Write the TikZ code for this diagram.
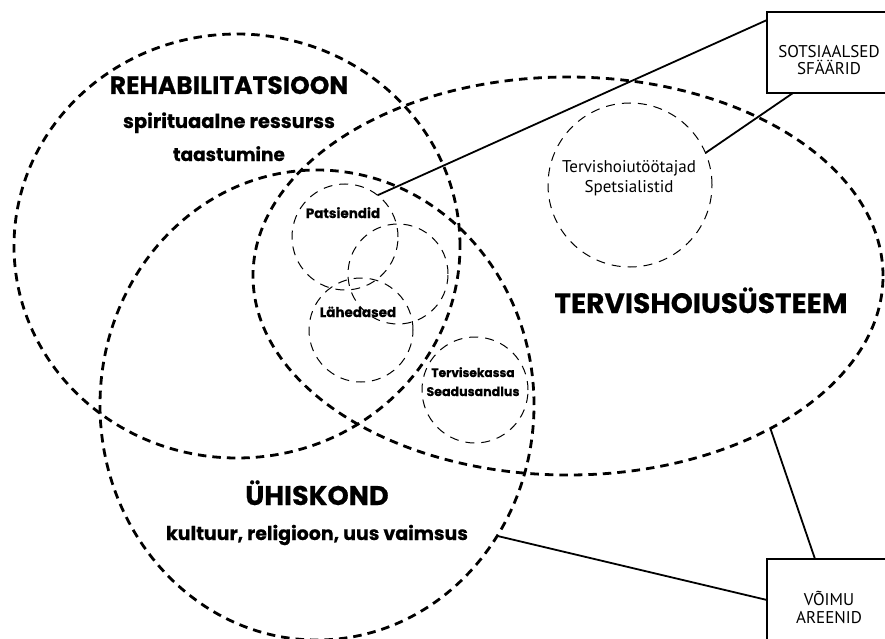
\documentclass[tikz,border=0pt]{standalone}
\usepackage{fontspec}
\setmainfont{PT Sans}
\newfontfamily\popfam{Poppins}[BoldFeatures={FakeBold=0.5}]
\usetikzlibrary{shapes.geometric}
\begin{document}
\begin{tikzpicture}[x=1pt,y=-1pt,
  big/.style={draw, ellipse, line width=2.8pt, dash pattern=on 8.5pt off 6pt, inner sep=0pt, outer sep=0pt},
  small/.style={draw, circle, line width=1pt, dash pattern=on 9pt off 7pt, inner sep=0pt, outer sep=0pt},
  conn/.style={line width=1.8pt},
  box/.style={draw, line width=1.2pt, minimum width=124pt, inner sep=0pt, outer sep=0pt},
  boldfont/.style={anchor=base, font=\popfam\bfseries\fontsize{#1}{#1}\selectfont},
  plain/.style={anchor=base, font=\fontsize{17}{20}\selectfont}
]
\useasboundingbox (0,0) rectangle (885,639);
\clip (0,0) rectangle (885,639);

% big ellipses
\node[big, minimum width=446pt, minimum height=424pt] (rehab) at (237,246) {};
\node[big, minimum width=434pt, minimum height=470pt] (uhis) at (317,405) {};
\node[big, minimum width=630pt, minimum height=398pt] (tervis) at (568,276) {};

% small circles
\node[small, minimum size=106pt] (pats) at (345,237) {};
\node[small, minimum size=100pt] (mid) at (398,274) {};
\node[small, minimum size=104pt] (lahe) at (361,330) {};
\node[small, minimum size=106pt] (kassa) at (475,390) {};
\node[small, minimum size=164pt] (tootaj) at (630,185) {};

% boxes
\node[box, minimum height=81pt] (sots) at (829,52.5) {};
\node[box, minimum height=102pt] (voim) at (829,610) {};

% texts
\node[boldfont=25] (t1) at (229,94) {REHABILITATSIOON};
\node[boldfont=19.5] (t2) at (229,128) {spirituaalne ressurss};
\node[boldfont=18.5] (t3) at (229,161) {taastumine};
\node[boldfont=27] (t4) at (317,505) {ÜHISKOND};
\node[boldfont=19] (t5) at (317,540) {kultuur, religioon, uus vaimsus};
\node[boldfont=28] (t6) at (701,313) {TERVISHOIUSÜSTEEM};
\node[boldfont=13.5] (t7) at (343,218) {Patsiendid};
\node[boldfont=13.5] (t8) at (358,317) {Lähedased};
\node[boldfont=12.2] (t9) at (473,377) {Tervisekassa};
\node[boldfont=12.6] (t10) at (473,396) {Seadusandlus};
\node[plain] (t11) at (629,172) {Tervishoiutöötajad};
\node[plain] (t12) at (629,192) {Spetsialistid};
\node[plain] (t13) at (829,58) {SOTSIAALSED};
\node[plain] (t14) at (829,75) {SFÄÄRID};
\node[plain] (t15) at (829,605) {VÕIMU};
\node[plain] (t16) at (829,623) {AREENID};

% connectors
\draw[conn] (pats.52) -- ([yshift=-8pt]sots.north west);
\draw[conn] (tootaj.23) -- ([xshift=26pt]sots.south west);
\draw[conn] (tervis.-37) -- ([xshift=48pt]voim.north west);
\draw[conn] (uhis.-36.5) -- ([yshift=-41pt]voim.north west);
\end{tikzpicture}
\end{document}
